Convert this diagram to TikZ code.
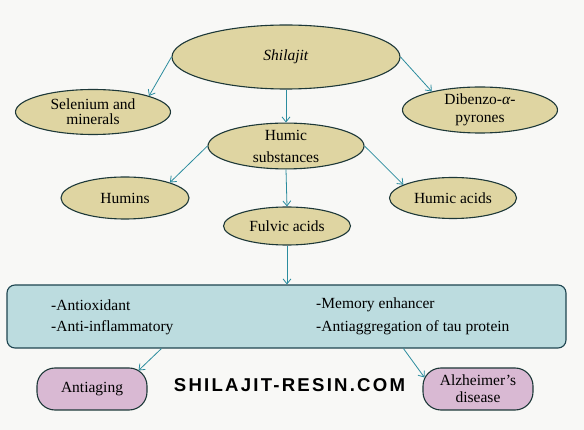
\documentclass[tikz,border=0pt]{standalone}
\usepackage{fontspec}
\setmainfont{Liberation Serif}
\newfontfamily\wmfont[LetterSpace=12]{Liberation Sans}
\usetikzlibrary{shapes.geometric,arrows.meta}
\definecolor{bgc}{HTML}{F8F8F6}
\definecolor{tan}{HTML}{DFD5A2}
\definecolor{edgec}{HTML}{1D3838}
\definecolor{arrowc}{HTML}{2B8C9E}
\definecolor{boxc}{HTML}{BCDCDF}
\definecolor{boxedge}{HTML}{1E4550}
\definecolor{pinkc}{HTML}{D9B9D3}
\tikzset{
  ell/.style={ellipse, draw=edgec, fill=tan, line width=1.1pt, inner sep=0pt, align=center,
    font=\fontsize{15.5}{18}\selectfont},
  pill/.style={rectangle, rounded corners=18pt, draw=edgec, fill=pinkc, line width=1.1pt,
    minimum width=110pt, minimum height=42pt, inner sep=0pt, align=center,
    font=\fontsize{15.5}{17}\selectfont},
  txt/.style={anchor=west, inner sep=0pt, font=\fontsize{15.5}{18}\selectfont},
  conn/.style={draw=arrowc, line width=0.8pt, -{Straight Barb[length=5pt,width=8pt]}}
}
\begin{document}
\begin{tikzpicture}[x=1pt,y=-1pt]
\useasboundingbox[fill=bgc] (0,0) rectangle (584,430);
\node[ell, minimum width=228pt, minimum height=64pt] (shil) at (286,57) {\textit{Shilajit}};
\node[ell, minimum width=155pt, minimum height=45pt, font=\fontsize{15.5}{15}\selectfont] (sel) at (93,112) {Selenium and\\minerals};
\node[ell, minimum width=155pt, minimum height=46pt] (dib) at (480,110) {Dibenzo-\textit{α}-\\pyrones};
\node[ell, minimum width=156pt, minimum height=45pt, font=\fontsize{15.5}{22}\selectfont] (hs) at (286,146) {Humic\\substances};
\node[ell, minimum width=128pt, minimum height=42pt] (hum) at (125,198) {Humins};
\node[ell, minimum width=127pt, minimum height=41pt] (ha) at (453,198) {Humic acids};
\node[ell, minimum width=127pt, minimum height=38pt] (fa) at (287,226) {Fulvic acids};
\node[rectangle, rounded corners=8pt, draw=boxedge, fill=boxc, line width=1.1pt,
  minimum width=559pt, minimum height=63pt, inner sep=0pt] (box) at (286.5,316.5) {};
\node[txt] (t1) at (51,305) {-Antioxidant};
\node[txt] (t2) at (51,328) {-Anti-inflammatory};
\node[txt] (t3) at (316,305) {-Memory enhancer};
\node[txt] (t4) at (316,328) {-Antiaggregation of tau protein};
\node[pill] (anti) at (92,389) {Antiaging};
\node[pill] (alz) at (478,389) {Alzheimer’s\\disease};
\node[inner sep=0pt, font=\wmfont\bfseries\fontsize{18.6}{20}\selectfont] (wm) at (289.5,385) {SHILAJIT-RESIN.COM};
\coordinate (b1) at ([xshift=155pt]box.south west);
\coordinate (b2) at ([xshift=397pt]box.south west);
\draw[conn] (shil.180) -- (sel.16);
\draw[conn] (shil.0) -- (dib.159);
\draw[conn] (shil.south) -- (hs.north);
\draw[conn] (hs.180) -- (hum.19);
\draw[conn] (hs.0) -- (ha.165);
\draw[conn] (hs.south) -- (fa.north);
\draw[conn] (fa.south) -- (box.north -| fa.south);
\draw[conn] (b1) -- ([xshift=-9pt,yshift=-3pt]anti.north east);
\draw[conn] (b2) -- ([xshift=2pt,yshift=-10pt]alz.north west);
\end{tikzpicture}
\end{document}
